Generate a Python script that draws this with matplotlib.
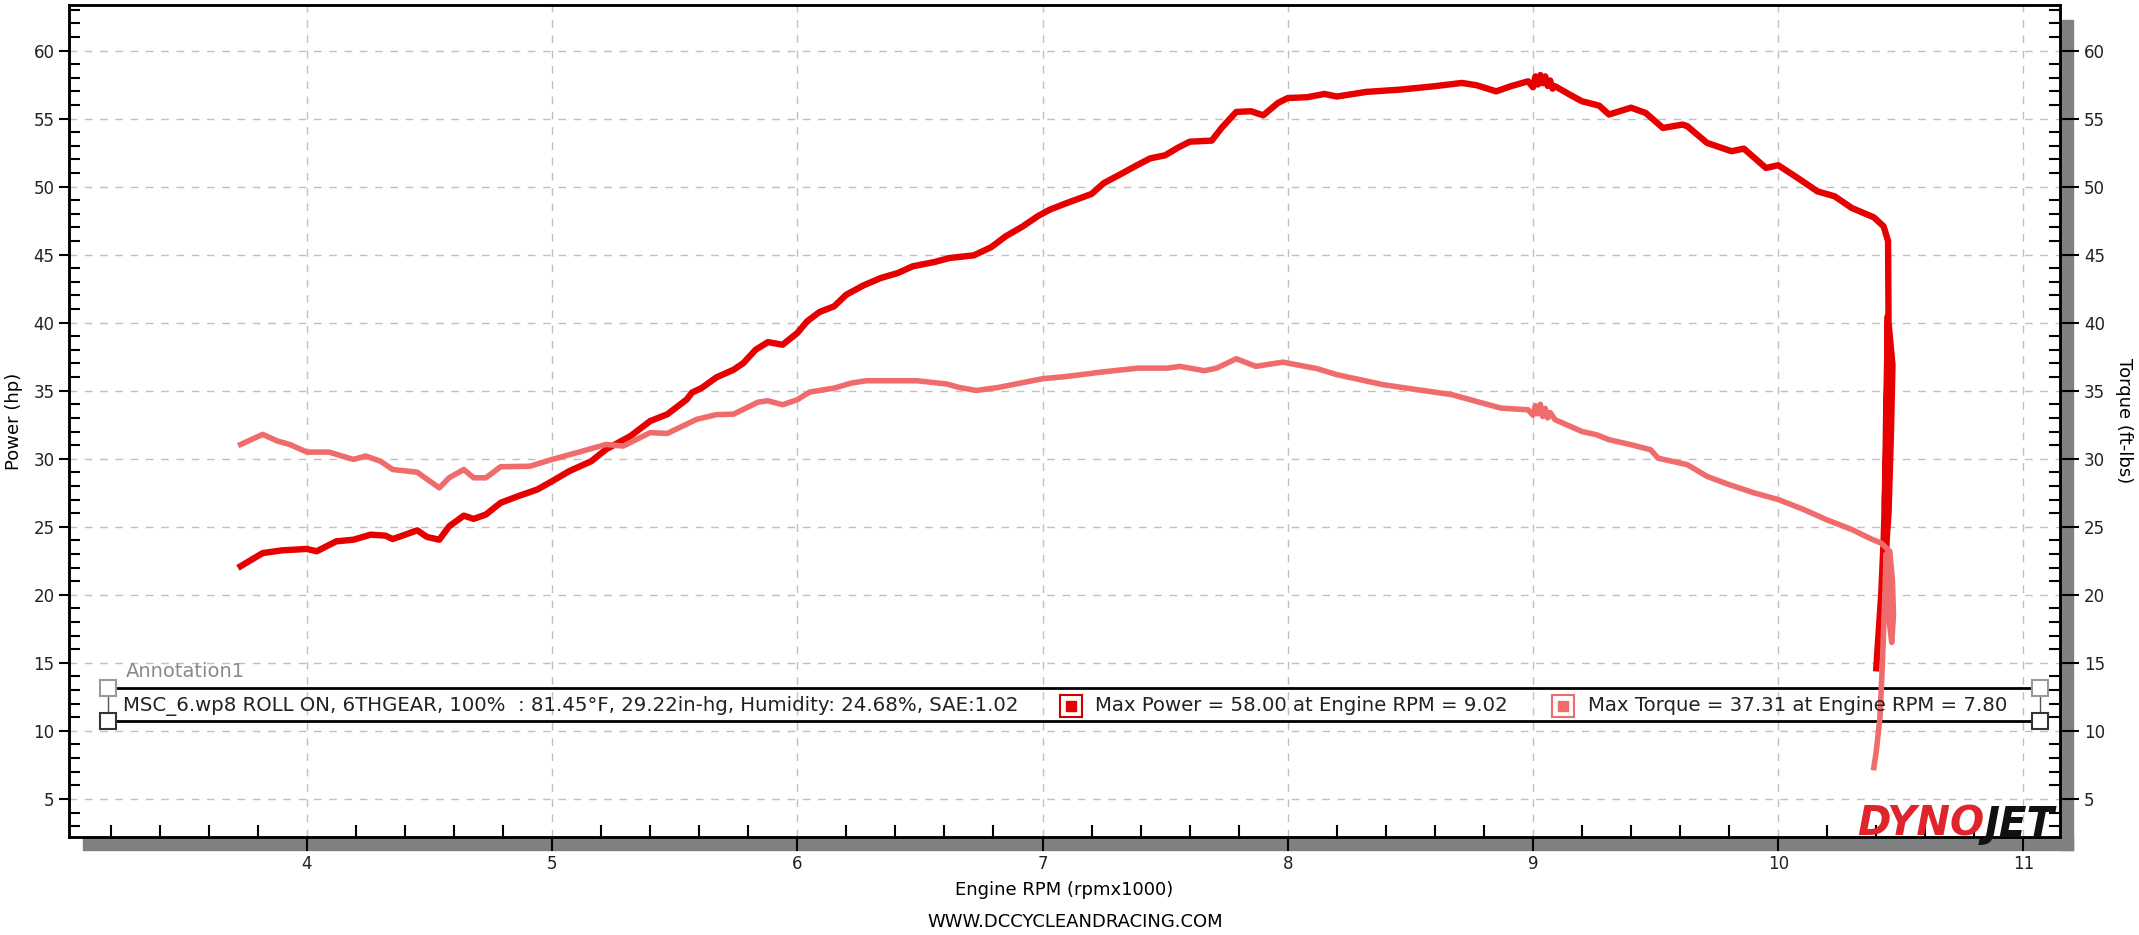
import matplotlib.pyplot as plt
from matplotlib.patches import Rectangle
from matplotlib.ticker import MultipleLocator
import numpy as np

# engine rpm (x1000) and power (hp)
rpm_power = [3.73, 3.82, 3.90, 4.00, 4.04, 4.12, 4.19, 4.26, 4.32, 4.35, 4.39, 4.45, 4.49, 4.54,
             4.58, 4.64, 4.68, 4.73, 4.79, 4.86, 4.94, 5.00, 5.07, 5.16, 5.22, 5.32, 5.40, 5.47,
             5.55, 5.57, 5.61, 5.67, 5.74, 5.78, 5.83, 5.88, 5.94, 6.00, 6.04, 6.09, 6.15, 6.20,
             6.27, 6.34, 6.41, 6.47, 6.56, 6.62, 6.72, 6.79, 6.85, 6.92, 6.98, 7.03, 7.10, 7.20,
             7.25, 7.32, 7.39, 7.44, 7.50, 7.55, 7.60, 7.69, 7.73, 7.79, 7.85, 7.90, 7.96, 8.00,
             8.08, 8.15, 8.20, 8.32, 8.46, 8.60, 8.71, 8.77, 8.85, 8.91, 8.98, 9.00, 9.01, 9.02,
             9.03, 9.04, 9.05, 9.06, 9.07, 9.08, 9.09, 9.15, 9.20, 9.27, 9.31, 9.40, 9.46, 9.53,
             9.61, 9.63, 9.71, 9.81, 9.86, 9.95, 10.00, 10.08, 10.16, 10.23, 10.30, 10.39, 10.43,
             10.448, 10.45, 10.466, 10.46, 10.45, 10.44, 10.435, 10.44, 10.445, 10.447, 10.445,
             10.44, 10.43, 10.42, 10.405, 10.40]
power_hp = [22.1, 23.07, 23.27, 23.37, 23.2, 23.93, 24.05, 24.42, 24.35, 24.1, 24.35, 24.74, 24.25, 24.05,
            25.03, 25.82, 25.58, 25.9, 26.76, 27.24, 27.74, 28.35, 29.09, 29.82, 30.69, 31.67, 32.77, 33.27,
            34.37, 34.86, 35.2, 35.98, 36.54, 37.03, 38.01, 38.57, 38.38, 39.24, 40.1, 40.78, 41.2, 42.06,
            42.74, 43.28, 43.65, 44.14, 44.46, 44.75, 44.95, 45.54, 46.35, 47.08, 47.82, 48.31, 48.8, 49.46,
            50.26, 50.93, 51.62, 52.08, 52.3, 52.84, 53.3, 53.38, 54.31, 55.49, 55.54, 55.24, 56.15, 56.51,
            56.57, 56.81, 56.62, 56.96, 57.13, 57.38, 57.62, 57.45, 57.0, 57.38, 57.74, 57.3, 58.1, 57.5,
            58.2, 57.6, 58.1, 57.4, 57.8, 57.2, 57.38, 56.76, 56.27, 55.95, 55.3, 55.8, 55.41, 54.31,
            54.56, 54.43, 53.21, 52.6, 52.79, 51.37, 51.57, 50.63, 49.65, 49.29, 48.43, 47.74, 47.08,
            46.0, 40.0, 36.9, 32.0, 26.0, 23.5, 27.0, 33.0, 38.0, 40.5, 36.0,
            30.0, 24.0, 20.0, 16.0, 14.6]

# engine rpm (x1000) and torque (ft-lbs)
rpm_torque = [3.73, 3.82, 3.88, 3.93, 4.00, 4.09, 4.19, 4.24, 4.30, 4.35, 4.45, 4.54, 4.58, 4.64,
              4.68, 4.73, 4.79, 4.91, 5.00, 5.11, 5.22, 5.29, 5.40, 5.47, 5.59, 5.67, 5.74, 5.79,
              5.84, 5.88, 5.94, 6.00, 6.05, 6.15, 6.22, 6.28, 6.49, 6.61, 6.66, 6.73, 6.82, 6.91,
              7.00, 7.10, 7.24, 7.39, 7.51, 7.56, 7.66, 7.71, 7.79, 7.87, 7.98, 8.12, 8.20, 8.39,
              8.53, 8.67, 8.77, 8.87, 8.98, 9.00, 9.01, 9.02, 9.03, 9.04, 9.05, 9.06, 9.07, 9.09,
              9.20, 9.26, 9.31, 9.40, 9.48, 9.51, 9.63, 9.71, 9.80, 9.90, 10.00, 10.10, 10.20,
              10.30, 10.38, 10.42, 10.455, 10.466, 10.47, 10.463, 10.45, 10.445, 10.44, 10.435,
              10.425, 10.415, 10.40, 10.39]
torque_ftlb = [31.05, 31.79, 31.3, 31.05, 30.49, 30.49, 29.95, 30.2, 29.82, 29.21, 29.01, 27.86, 28.6, 29.21,
               28.6, 28.6, 29.41, 29.45, 29.95, 30.49, 31.05, 30.93, 31.92, 31.86, 32.9, 33.24, 33.28, 33.72,
               34.16, 34.26, 33.97, 34.34, 34.9, 35.19, 35.56, 35.73, 35.73, 35.49, 35.24, 35.02, 35.24, 35.56,
               35.88, 36.05, 36.37, 36.66, 36.66, 36.79, 36.47, 36.66, 37.35, 36.79, 37.1, 36.62, 36.18, 35.44,
               35.07, 34.71, 34.21, 33.72, 33.6, 33.2, 33.9, 33.3, 34.0, 33.1, 33.7, 33.0, 33.4, 32.87,
               32.0, 31.76, 31.4, 31.03, 30.66, 30.04, 29.56, 28.7, 28.1, 27.5, 27.0, 26.3, 25.5,
               24.8, 24.1, 23.8, 23.2, 21.0, 18.5, 16.5, 18.5, 22.0, 23.0, 20.0,
               15.0, 11.0, 8.5, 7.3]

y_ticks = [5, 10, 15, 20, 25, 30, 35, 40, 45, 50, 55, 60]
x_ticks = [4, 5, 6, 7, 8, 9, 10, 11]

info_text = "MSC_6.wp8 ROLL ON, 6THGEAR, 100%  : 81.45°F, 29.22in-hg, Humidity: 24.68%, SAE:1.02"
max_power_text = "Max Power = 58.00 at Engine RPM = 9.02"
max_torque_text = "Max Torque = 37.31 at Engine RPM = 7.80"

power_color = '#e60000'
torque_color = '#f06c6c'

fig = plt.figure(figsize=(21.39, 9.35), dpi=100)
ax = fig.add_axes([0.03226, 0.1048, 0.9309, 0.8899])
ax2 = ax.twinx()

# grey drop shadow round the plot box
fig.add_artist(Rectangle((0.9631, 0.0909), 0.0061, 0.8877, transform=fig.transFigure,
                         color='#808080', zorder=-1))
fig.add_artist(Rectangle((0.0388, 0.0909), 0.9304, 0.0139, transform=fig.transFigure,
                         color='#808080', zorder=-1))

ax.plot(rpm_power, power_hp, color=power_color, lw=4.6, solid_joinstyle='round', zorder=3)
ax2.plot(rpm_torque, torque_ftlb, color=torque_color, lw=4.0, solid_joinstyle='round', zorder=3)

for a in (ax, ax2):
    a.set_xlim(3.03, 11.15)
    a.set_ylim(2.2, 63.35)
    a.set_yticks(y_ticks)
    a.yaxis.set_minor_locator(MultipleLocator(1))
    for s in a.spines.values():
        s.set_linewidth(1.8)

ax.set_xticks(x_ticks)
ax.xaxis.set_minor_locator(MultipleLocator(0.2))
ax.grid(True, which='major', color='#c0c0c0', lw=1.0, linestyle=(0, (5.5, 5.5)))
ax.set_axisbelow(True)

ax.tick_params(axis='y', which='major', direction='out', length=7.5, width=1.5, labelsize=12, pad=3)
ax.tick_params(axis='y', which='minor', direction='in', length=8, width=1.5)
ax.tick_params(axis='x', which='major', direction='out', length=10, width=1.5, labelsize=12, pad=3,
               top=False)
ax.tick_params(axis='x', which='minor', direction='in', length=8.5, width=1.5, top=False)
ax2.tick_params(axis='y', which='major', direction='out', length=14, width=1.5, labelsize=12, pad=3)
ax2.tick_params(axis='y', which='minor', direction='in', length=8, width=1.5)
for lab in ax.get_xticklabels() + ax.get_yticklabels() + ax2.get_yticklabels():
    lab.set_color('#222222')

fig.text(14 / 2139, 0.5497, 'Power (hp)', rotation=90, ha='center', va='center', fontsize=13)
fig.text(2124 / 2139, 0.5497, 'Torque (ft-lbs)', rotation=270, ha='center', va='center', fontsize=13)
fig.text(0.4977, 0.048, 'Engine RPM (rpmx1000)', ha='center', va='center', fontsize=13)
fig.text(0.5025, 0.0139, 'WWW.DCCYCLEANDRACING.COM', ha='center', va='center', fontsize=13)

# annotation strip
tr = ax2.transAxes
ax2.plot([0.0241, 0.9849], [0.1791, 0.1791], transform=tr, color='black', lw=2.0, zorder=2)
ax2.plot([0.0241, 0.9849], [0.1394, 0.1394], transform=tr, color='black', lw=2.0, zorder=2)
ax2.plot([0.0196, 0.0196], [0.1394, 0.1791], transform=tr, color='#555555', lw=1.0, zorder=2)
ax2.plot([0.9897, 0.9897], [0.1394, 0.1791], transform=tr, color='#555555', lw=1.0, zorder=2)
for hx in (0.0196, 0.9897):
    ax2.plot([hx], [0.1791], transform=tr, marker='s', ms=12, mfc='white', mec='#999999',
             mew=1.5, zorder=4)
    ax2.plot([hx], [0.1394], transform=tr, marker='s', ms=12, mfc='white', mec='#333333',
             mew=1.5, zorder=4)
ax2.text(0.0286, 0.199, 'Annotation1', transform=tr, color='#8a8a8a', fontsize=14, va='center')
ax2.text(0.0271, 0.158, info_text, transform=tr, color='#222222', fontsize=14.2, va='center')
ax2.plot([0.5033], [0.158], transform=tr, marker='s', ms=16, mfc='white', mec='#cc0000', mew=1.5)
ax2.plot([0.5033], [0.158], transform=tr, marker='s', ms=7, mfc=power_color, mec=power_color)
ax2.text(0.5153, 0.158, max_power_text, transform=tr, color='#222222', fontsize=14.2, va='center')
ax2.plot([0.7504], [0.158], transform=tr, marker='s', ms=16, mfc='white', mec=torque_color, mew=1.5)
ax2.plot([0.7504], [0.158], transform=tr, marker='s', ms=7, mfc=torque_color, mec=torque_color)
ax2.text(0.7629, 0.158, max_torque_text, transform=tr, color='#222222', fontsize=14.2, va='center')

# logo
fig.text(0.9275, 0.106, 'DYNO', color='#e0242c', fontsize=29, fontweight='heavy', style='italic',
         ha='right', va='baseline')
fig.text(0.9607, 0.106, 'JET', color='#111111', fontsize=29, fontweight='heavy', style='italic',
         ha='right', va='baseline')

fig.savefig('out.png', dpi=100)
